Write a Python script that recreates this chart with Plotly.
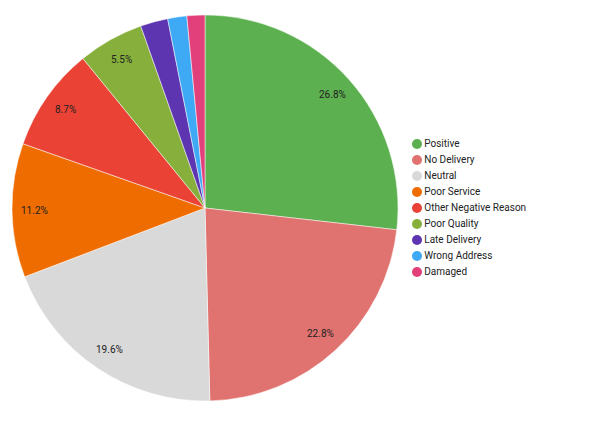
import numpy as np
import plotly.graph_objects as go

labels = ["Positive", "No Delivery", "Neutral", "Poor Service", "Other Negative Reason",
          "Poor Quality", "Late Delivery", "Wrong Address", "Damaged"]
values = [26.8, 22.8, 19.6, 11.2, 8.7, 5.5, 2.3, 1.6, 1.5]
colors = ["#5cb04f", "#e07370", "#d9d9d9", "#ee6c00", "#ea4335",
          "#86b03b", "#5e35b1", "#3ea9f5", "#e2407a"]

W, H = 590, 423
off = 8  # page body margin
cx, cy, R = 205 - off, 208 - off, 193  # pie centre / radius in pixels

fig = go.Figure()
fig.add_trace(go.Pie(
    labels=labels,
    values=values,
    marker=dict(colors=colors, line=dict(color="white", width=0.5)),
    sort=False,
    direction="clockwise",
    rotation=0,
    textinfo="none",
    hoverinfo="label+percent",
    showlegend=False,
    domain=dict(x=[(cx - R) / W, (cx + R) / W], y=[(H - cy - R) / H, (H - cy + R) / H]),
))

# percentage labels, Google-chart style, only for big enough slices
total = sum(values)
start = 0.0
for lab, v in zip(labels, values):
    mid = (start + v / 2) / total * 2 * np.pi
    start += v
    if v / total < 0.05:
        continue
    px_ = cx + 0.885 * R * np.sin(mid)
    py_ = cy - 0.885 * R * np.cos(mid)
    fig.add_annotation(
        x=px_ / W, y=1 - py_ / H, xref="paper", yref="paper",
        xanchor="center", yanchor="middle",
        text="%.1f%%" % (100 * v / total), showarrow=False,
        font=dict(size=10, color="#222222"),
    )

# legend with round markers, 16px per row
top, row = 135 - off, 16
fig.add_trace(go.Scatter(
    x=[0] * len(labels), y=list(range(len(labels))),
    mode="markers+text", text=labels, textposition="middle right",
    textfont=dict(size=10, color="#222222"),
    marker=dict(symbol="circle", size=10, color=colors),
    hoverinfo="skip", showlegend=False, cliponaxis=False,
))

fig.update_layout(
    width=W, height=H,
    margin=dict(l=0, r=0, t=0, b=0),
    paper_bgcolor="white", plot_bgcolor="rgba(0,0,0,0)",
    font=dict(family="Roboto", size=10, color="#222222"),
    xaxis=dict(visible=False, domain=[0.6, 1.0], range=[354 - 417 + off, 590 - 417 + off],
               fixedrange=True),
    yaxis=dict(visible=False,
               domain=[1 - (top + 1 + row * len(labels)) / H, 1 - (top + 1) / H],
               range=[len(labels) - 0.5, -0.5], fixedrange=True),
)

fig.write_html("out.html")
